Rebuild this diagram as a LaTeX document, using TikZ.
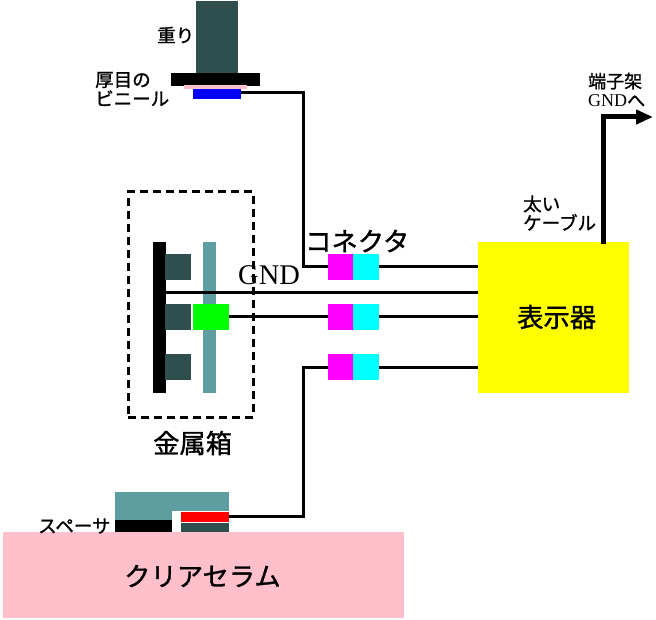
\documentclass[tikz,border=0pt]{standalone}
\usepackage{fontspec}
\setmainfont{Liberation Serif}
\newfontfamily\jpfont[FakeBold=1.2]{Noto Sans CJK JP}
\usetikzlibrary{positioning, arrows.meta}
\definecolor{weight}{HTML}{2F4F4F}
\definecolor{plate}{HTML}{5F9EA0}
\definecolor{ceramic}{HTML}{FFC0CB}
\definecolor{plugcol}{HTML}{FF00FF}
\definecolor{jackcol}{HTML}{00FFFF}
\definecolor{displaycol}{HTML}{FFFF00}
\definecolor{electrodecol}{HTML}{0000FF}
\definecolor{samplecol}{HTML}{00FF00}
\definecolor{padcol}{HTML}{FF0000}

\begin{document}
\begin{tikzpicture}[
    x=1pt,
    y=-1pt,
    node distance=0pt,
    block/.style={
        inner sep=0pt,
        outer sep=0pt,
        anchor=north west
    },
    darkblock/.style={block, fill=weight, minimum width=26pt, minimum height=26pt},
    plug/.style={block, fill=plugcol, minimum width=25pt, minimum height=26pt},
    jack/.style={block, fill=jackcol, minimum width=26pt, minimum height=26pt, anchor=west},
    wire/.style={draw, line width=3pt},
    biglabel/.style={inner sep=0pt, anchor=west, font=\jpfont\fontsize{26.3}{26}\selectfont},
    smalllabel/.style={inner sep=0pt, anchor=west, align=left, font=\jpfont\fontsize{18.5}{19}\selectfont}
]
\useasboundingbox (0,0) rectangle (656,620);

% Weight and vinyl
\node[block, fill=weight, minimum width=42pt, minimum height=72pt] (weight) at (196,1) {};
\node[block, fill=black, minimum width=89pt, minimum height=13pt] (press) at (171,73) {};
\node[block, fill=ceramic, minimum width=63pt, minimum height=4pt] (vinyl) at (184,85) {};
\node[block, fill=electrodecol, minimum width=48pt, minimum height=10pt] (electrode) at (193,89) {};
\node[smalllabel] (weightlabel) at (157,35) {重り};
\node[smalllabel] (vinyllabel) at (95,89) {厚目の\\ビニール};

% Metal box
\node[block, draw, dashed, line width=3pt, dash pattern=on 8pt off 5pt, minimum width=125pt, minimum height=225pt] (box) at (128,192) {};
\node[block, fill=black, minimum width=13pt, minimum height=151pt] (bar) at (153,242) {};
\node[block, fill=plate, minimum width=13pt, minimum height=151pt] (tealbar) at (203,242) {};
\node[darkblock] (dark1) at (165,254) {};
\node[darkblock] (dark2) at (165,304) {};
\node[darkblock] (dark3) at (165,354) {};
\node[block, fill=samplecol, minimum width=36pt, minimum height=26pt] (sample) at (193,304) {};
\node[biglabel] (boxlabel) at (153,443) {金属箱};

% Connectors
\node[plug] (plug1) at (328,254) {};
\node[jack, right=of plug1] (jack1) {};
\node[plug] (plug2) at (328,304) {};
\node[jack, right=of plug2] (jack2) {};
\node[plug] (plug3) at (328,354) {};
\node[jack, right=of plug3] (jack3) {};
\node[biglabel] (connlabel) at (305,241) {コネクタ};
\node[inner sep=0pt, anchor=west, font=\fontsize{28.5}{28}\selectfont] (gndlabel) at (238,275) {GND};

% Display
\node[block, fill=displaycol, minimum width=151pt, minimum height=151pt] (display) at (478,242) {};
\node[biglabel] (displaylabel) at (517,317) {表示器};
\node[smalllabel] (cablelabel) at (523,213) {太い\\ケーブル};
\node[smalllabel, font=\fontsize{18}{19}\selectfont] (framelabel) at (588,90) {{\jpfont 端子架}\\GND{\jpfont へ}};

% Ceramic
\node[block, fill=ceramic, minimum width=401pt, minimum height=86pt] (ceramic) at (3,532) {};
\node[block, fill=plate, minimum width=114pt, minimum height=40pt] (upper) at (115,492) {};
\node[block, fill=black, minimum width=57pt, minimum height=12pt] (spacer) at (115,520) {};
\node[block, fill=white, minimum width=57pt, minimum height=21pt] (gap) at (172,511) {};
\node[block, fill=padcol, minimum width=48pt, minimum height=10pt] (redpad) at (181,511.5) {};
\node[block, fill=weight, minimum width=48pt, minimum height=9pt] (lowerpad) at (181,523) {};
\node[biglabel] (ceramiclabel) at (124,576) {クリアセラム};
\node[smalllabel] (spacerlabel) at (38,526) {スペーサ};

% Free ends of the wires
\coordinate (electrodeout) at (241,92.5);
\coordinate (bustop) at (303,92.5);
\coordinate (busbottom) at (303,516.5);
\coordinate (gndleft) at (166,292.5);
\coordinate (gndright) at (478,292.5);
\coordinate (cablebase) at (603,244);
\coordinate (cablebend) at (603,117);
\coordinate (cableend) at (653,117);

% Wires
\draw[wire] (electrodeout) -- (bustop) |- (plug1.west);
\draw[wire] (plug3.west) -| (busbottom) -- (redpad.east);
\draw[wire] (gndleft) -- (gndright);
\draw[wire] (sample.east) -- (plug2.west);
\draw[wire] (jack1.east) -- (jack1.east -| display.west);
\draw[wire] (jack2.east) -- (jack2.east -| display.west);
\draw[wire] (jack3.east) -- (jack3.east -| display.west);
\draw[line width=5pt, -{Triangle[length=17pt,width=14pt]}] (cablebase) -- (cablebend) -- (cableend);

\end{tikzpicture}
\end{document}
